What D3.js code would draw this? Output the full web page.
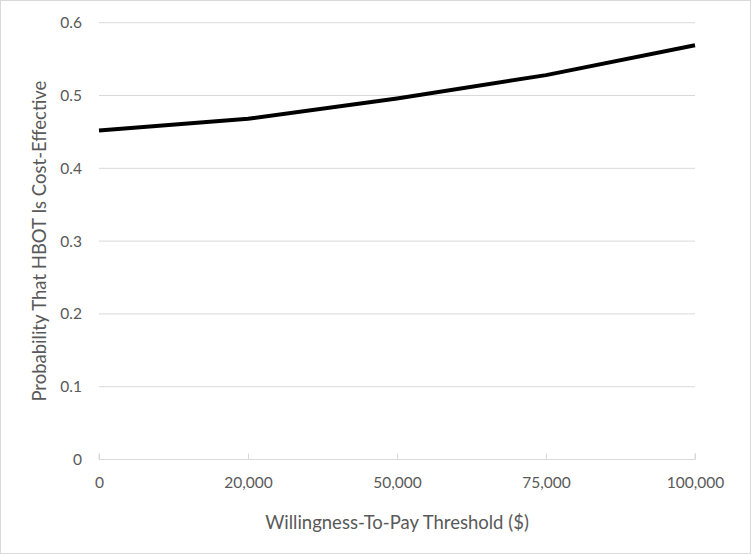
<!DOCTYPE html>
<html><head><meta charset="utf-8">
<script src="https://cdn.jsdelivr.net/npm/d3@7"></script>
<style>body{margin:0;background:#fff}svg{display:block}</style>
</head><body>
<script>
const categories = ["0", "20,000", "50,000", "75,000", "100,000"];
const probabilities = [0.452, 0.468, 0.496, 0.528, 0.569];
const yTicks = [0, 0.1, 0.2, 0.3, 0.4, 0.5, 0.6];
const xTitle = "Willingness-To-Pay Threshold ($)";
const yTitle = "Probability That HBOT Is Cost-Effective";

(function () {
const W = 751, H = 554;
const pLeft = 99, pRight = 695, pTop = 22.7, pBottom = 459.5;
const font = "Lato, 'Open Sans', sans-serif";
const svg = d3.select("body").append("svg").attr("width", W).attr("height", H);
svg.append("rect").attr("x", 0.5).attr("y", 0.5).attr("width", W - 1).attr("height", H - 1)
  .attr("fill", "#fff").attr("stroke", "#d9d9d9");

const x = d3.scalePoint().domain(categories).range([pLeft, pRight]).padding(0);
const y = d3.scaleLinear().domain([0, 0.6]).range([pBottom, pTop]);

// gridlines
svg.append("g").selectAll("line").data(yTicks.filter(d => d > 0)).join("line")
  .attr("x1", pLeft).attr("x2", pRight).attr("y1", d => y(d)).attr("y2", d => y(d))
  .attr("stroke", "#d9d9d9").attr("stroke-width", 1);

// y labels
svg.append("g").selectAll("text").data(yTicks).join("text")
  .attr("x", 82).attr("y", d => y(d)).attr("dy", "0.35em").attr("text-anchor", "end")
  .attr("font-family", font).attr("font-size", 15.5).attr("fill", "#595959")
  .text(d => d === 0 ? "0" : d3.format(".1f")(d));

// x axis
const xAxis = d3.axisBottom(x).tickSize(-6).tickPadding(17);
const gx = svg.append("g").attr("transform", `translate(0,${pBottom})`).call(xAxis);
gx.select(".domain").attr("stroke", "#d9d9d9").attr("d", `M${pLeft},-6V0H${pRight}V-6`);
gx.selectAll(".tick line").attr("stroke", "#d9d9d9");
gx.selectAll(".tick text").attr("font-family", font).attr("font-size", 15.5).attr("fill", "#595959");

// line
const line = d3.line().x((d, i) => x(categories[i])).y(d => y(d));
svg.append("path").datum(probabilities).attr("d", line)
  .attr("fill", "none").attr("stroke", "#000").attr("stroke-width", 4).attr("stroke-linejoin", "round");

// titles
svg.append("text").attr("x", (pLeft + pRight) / 2).attr("y", 529).attr("text-anchor", "middle")
  .attr("font-family", font).attr("font-size", 18.5).attr("fill", "#595959").text(xTitle);
svg.append("text").attr("transform", `translate(46,${(pTop + pBottom) / 2}) rotate(-90)`)
  .attr("text-anchor", "middle").attr("font-family", font).attr("font-size", 18.5).attr("fill", "#595959").text(yTitle);
})();
</script>
</body></html>
